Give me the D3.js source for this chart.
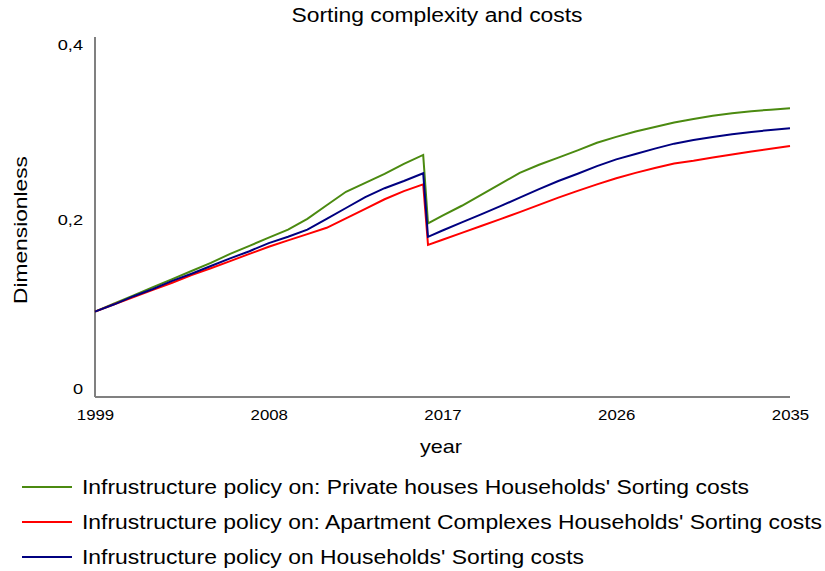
<!DOCTYPE html>
<html><head><meta charset="utf-8">
<script src="https://cdn.jsdelivr.net/npm/d3@7"></script>
<style>body{margin:0;background:#fff}svg{display:block;font-family:"Liberation Sans",Arial,sans-serif}</style>
</head><body><svg id="c" width="825" height="571"></svg>
<script>
const years = [1999,2000,2001,2002,2003,2004,2005,2006,2007,2008,2009,2010,2011,2012,2013,2014,2015,2016,2016.25,2017,2018,2019,2020,2021,2022,2023,2024,2025,2026,2027,2028,2029,2030,2031,2032,2033,2034,2035];
const privateHouses = [0.0948,0.104,0.113,0.122,0.131,0.140,0.149,0.159,0.168,0.177,0.186,0.198,0.213,0.228,0.238,0.248,0.259,0.269,0.193,0.2016,0.2125,0.2245,0.2368,0.249,0.258,0.266,0.274,0.2825,0.289,0.295,0.300,0.305,0.309,0.3125,0.3153,0.3175,0.3193,0.3208];
const apartments = [0.0948,0.103,0.111,0.119,0.127,0.1355,0.143,0.151,0.159,0.167,0.174,0.181,0.188,0.1985,0.209,0.2197,0.2287,0.2363,0.1689,0.1747,0.1824,0.190,0.1977,0.2054,0.2135,0.2215,0.229,0.2362,0.243,0.249,0.2545,0.2595,0.2625,0.266,0.2695,0.2727,0.2758,0.2789];
const households = [0.0948,0.103,0.112,0.120,0.129,0.137,0.1455,0.154,0.162,0.171,0.178,0.186,0.198,0.210,0.222,0.232,0.240,0.2486,0.178,0.185,0.194,0.203,0.212,0.2215,0.231,0.240,0.248,0.2565,0.264,0.270,0.276,0.2815,0.2855,0.289,0.292,0.2945,0.2967,0.2986];
const xTicks = [1999,2008,2017,2026,2035];
const yTicks = [0,0.2,0.4];
const yTickLabels = ["0","0,2","0,4"];
const seriesNames = ["Infrustructure policy on: Private houses Households' Sorting costs","Infrustructure policy on: Apartment Complexes Households' Sorting costs","Infrustructure policy on Households' Sorting costs"];
const seriesColors = ["#4b8a10","#ff0000","#000080"];
const seriesValues = [privateHouses, apartments, households];

const svg = d3.select("#c");
const L=95, R=790, T=37, B=397;
const x = d3.scaleLinear().domain([1999,2035]).range([L,R]);
const y = d3.scaleLinear().domain([0,0.4]).range([B,T]);
const FF = "Liberation Sans, Arial, sans-serif";

function stretch(sel, f){
  sel.each(function(){
    const w = this.getComputedTextLength();
    d3.select(this).attr("textLength", w*f).attr("lengthAdjust","spacingAndGlyphs");
  });
}

svg.append("text").attr("x",437).attr("y",22).attr("text-anchor","middle").attr("font-size",20)
  .attr("textLength",291).attr("lengthAdjust","spacingAndGlyphs").text("Sorting complexity and costs");

// axes
const xAxis = d3.axisBottom(x).tickValues(xTicks).tickSize(0).tickFormat(d3.format("d"));
const gx = svg.append("g").attr("transform",`translate(0,${B})`).call(xAxis);
gx.select(".domain").attr("stroke","#808080").attr("stroke-width",2).attr("d",`M${L},0H${R}`);
gx.selectAll("text").attr("font-size",14).attr("fill","#000").attr("dy","0").attr("y",23).attr("font-family",FF);
stretch(gx.selectAll("text"),1.2);

const yAxis = d3.axisLeft(y).tickValues(yTicks).tickSize(0).tickFormat((d,i)=>yTickLabels[i]);
const gy = svg.append("g").attr("transform",`translate(${L},0)`).call(yAxis);
gy.select(".domain").attr("stroke","#808080").attr("stroke-width",2).attr("d",`M0,${T}V${B}`);
gy.selectAll("text").attr("font-size",14).attr("fill","#000").attr("x",-12).attr("font-family",FF)
  .attr("dy",(d)=> d===0 ? "-0.25em" : d===0.4 ? "0.9em" : "0.55em");
stretch(gy.selectAll("text"),1.3);

svg.append("text").attr("transform","translate(27,230) rotate(-90)").attr("text-anchor","middle").attr("font-size",19)
  .attr("textLength",148).attr("lengthAdjust","spacingAndGlyphs").text("Dimensionless");
svg.append("text").attr("x",441).attr("y",453).attr("text-anchor","middle").attr("font-size",19)
  .attr("textLength",42).attr("lengthAdjust","spacingAndGlyphs").text("year");

const line = d3.line().x((d,i)=>x(years[i])).y(d=>y(d));
seriesValues.forEach((vals,k)=>{
  svg.append("path").datum(vals).attr("d",line).attr("fill","none").attr("stroke",seriesColors[k]).attr("stroke-width",2);
});

// legend
const legendY=[487,522,557];
const legendW=[667,740,502];
seriesNames.forEach((n,k)=>{
  svg.append("line").attr("x1",22).attr("x2",72).attr("y1",legendY[k]).attr("y2",legendY[k]).attr("stroke",seriesColors[k]).attr("stroke-width",2);
  svg.append("text").attr("x",82).attr("y",legendY[k]+7).attr("font-size",20).attr("textLength",legendW[k]).attr("lengthAdjust","spacingAndGlyphs").text(n);
});
</script></body></html>
